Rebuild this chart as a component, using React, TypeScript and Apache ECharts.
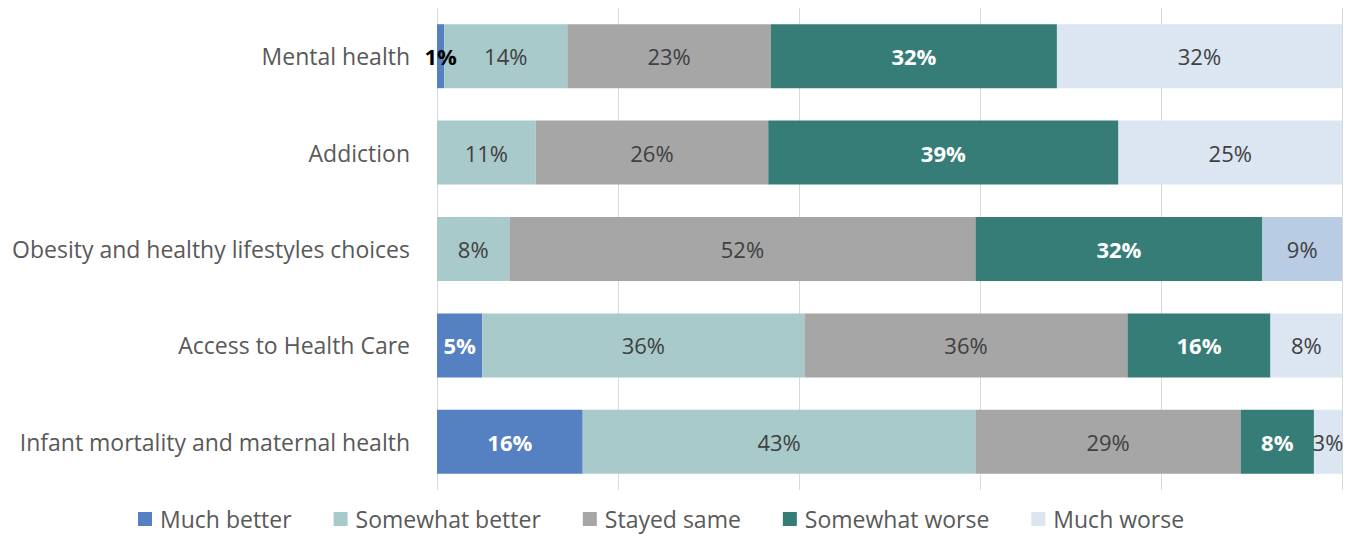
import React, { useEffect, useRef } from "react";
import * as echarts from "echarts";

const categories = [
  "Mental health",
  "Addiction",
  "Obesity and healthy lifestyles choices",
  "Access to Health Care",
  "Infant mortality and maternal health",
];
const seriesNames = ["Much better", "Somewhat better", "Stayed same", "Somewhat worse", "Much worse"];
const muchBetter = [0.8, 0, 0, 5.0, 16.1];
const somewhatBetter = [13.6, 10.9, 8.0, 35.6, 43.4];
const stayedSame = [22.5, 25.7, 51.5, 35.7, 29.3];
const somewhatWorse = [31.6, 38.7, 31.7, 15.8, 8.1];
const muchWorse = [31.5, 24.7, 8.8, 7.9, 3.1];

const colors = ["#5580c2", "#a8caca", "#a6a6a6", "#367d77", "#dce6f2"];
const FONT = "Open Sans";

export default function App() {
  const ref = useRef<HTMLDivElement>(null);
  useEffect(() => {
    document.body.style.margin = "0";
    const chart = echarts.init(ref.current!, null, { renderer: "svg" });
    const fmt = (p: any) => (p.value > 0 ? Math.round(p.value) + "%" : "");
    const dataSets = [muchBetter, somewhatBetter, stayedSame, somewhatWorse, muchWorse];
    const labelStyles = [
      { color: "#ffffff", fontWeight: "bold" },
      { color: "#404040", fontWeight: "normal" },
      { color: "#404040", fontWeight: "normal" },
      { color: "#ffffff", fontWeight: "bold" },
      { color: "#404040", fontWeight: "normal" },
    ];
    const series = dataSets.map((d, si) => ({
      name: seriesNames[si],
      type: "bar",
      stack: "total",
      barWidth: 64,
      itemStyle: { color: colors[si] },
      label: {
        show: true,
        position: "inside",
        formatter: fmt,
        fontFamily: FONT,
        fontSize: 22,
        ...labelStyles[si],
      },
      data: d.map((v, ci) => {
        const item: any = { value: v };
        if (si === 0 && ci === 0) {
          item.label = { color: "#000000", fontWeight: "bold" };
        }
        if (si === 4 && ci === 2) {
          item.itemStyle = { color: "#b8cce4" };
        }
        return item;
      }),
    }));
    chart.setOption({
      animation: false,
      grid: { left: 437, right: 19, top: 8, bottom: 47, containLabel: false },
      legend: {
        top: 506,
        left: 138,
        padding: 0,
        itemWidth: 14,
        itemHeight: 14,
        itemGap: 42,
        icon: "rect",
        textStyle: { fontFamily: FONT, fontSize: 23, lineHeight: 26, color: "#595959", padding: [0, 0, 0, 3] },
        data: seriesNames,
      },
      xAxis: {
        type: "value",
        min: 0,
        max: 100,
        interval: 20,
        axisLabel: { show: false },
        axisLine: { show: false },
        axisTick: { show: false },
        splitLine: { lineStyle: { color: "#d9d9d9", width: 1 } },
      },
      yAxis: {
        type: "category",
        data: categories,
        inverse: true,
        axisLine: { show: false },
        axisTick: { show: false },
        axisLabel: { fontFamily: FONT, fontSize: 23, color: "#595959", margin: 27 },
      },
      series,
    });
    return () => chart.dispose();
  }, []);
  return <div ref={ref} style={{ width: 1361, height: 537 }} />;
}
